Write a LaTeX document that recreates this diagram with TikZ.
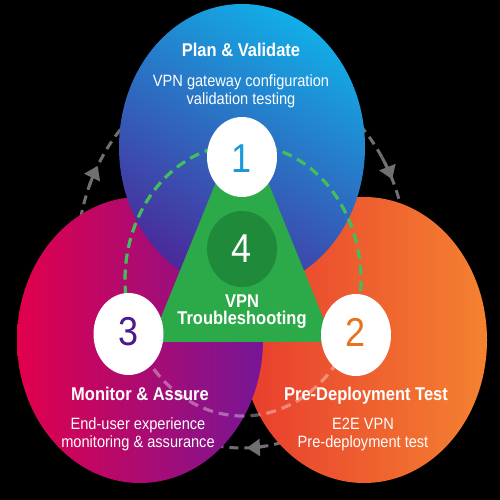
\documentclass[tikz,border=0pt]{standalone}
\usepackage{fontspec}
\setmainfont{Liberation Sans}
\usepackage{graphicx}
\usetikzlibrary{arrows.meta}
\definecolor{blueT}{RGB}{18,172,230}
\definecolor{blueB}{RGB}{74,42,154}
\definecolor{pinkL}{RGB}{226,0,76}
\definecolor{pinkR}{RGB}{118,22,150}
\definecolor{orgL}{RGB}{232,60,46}
\definecolor{orgR}{RGB}{244,130,48}
\definecolor{trigreen}{RGB}{44,170,74}
\definecolor{darkgreen}{RGB}{30,138,58}
\definecolor{dashgreen}{RGB}{66,190,92}
\definecolor{arcgray}{RGB}{112,112,112}
\definecolor{numblue}{RGB}{26,154,216}
\definecolor{numpurple}{RGB}{72,28,138}
\definecolor{numorange}{RGB}{232,115,31}
\newcommand\vtext[1]{\scalebox{1}[1.12]{\begin{tabular}{@{}c@{}}#1\end{tabular}}}
\tikzset{
  grayarc/.style={draw=arcgray, line width=3pt, dash pattern=on 9pt off 6pt},
  grayhead/.style={draw=arcgray, line width=3pt, -{Triangle[length=13pt,width=17pt]}},
  greendash/.style={draw=dashgreen, line width=3.2pt, dash pattern=on 10pt off 6pt},
  whitedash/.style={draw=white, draw opacity=0.35, line width=3.2pt, dash pattern=on 10pt off 6pt},
  numdisc/.style={fill=white},
  title/.style={text=white, inner sep=0pt, font=\fontsize{16.5}{18}\selectfont\bfseries},
  body/.style={text=white, inner sep=0pt, font=\fontsize{14.6}{16}\selectfont},
  num/.style={inner sep=0pt, font=\fontsize{36}{36}\selectfont}
}
\begin{document}
\begin{tikzpicture}[x=1pt,y=1pt]
\useasboundingbox (0,0) rectangle (500,500);
\fill[black] (0,0) rectangle (500,500);
% outer cycle
\coordinate (oc) at (242,242);
\draw[grayarc] (oc) ellipse [x radius=165pt, y radius=190pt];
\draw[grayhead] (oc) ++(158:165pt and 190pt) arc[start angle=158, end angle=151, x radius=165pt, y radius=190pt];
\draw[grayhead] (oc) ++(32:165pt and 190pt) arc[start angle=32, end angle=24.5, x radius=165pt, y radius=190pt];
\draw[grayhead] (oc) ++(278:165pt and 190pt) arc[start angle=278, end angle=271.7, x radius=165pt, y radius=190pt];
% big ellipses
\shade[left color=orgL, right color=orgR] (364,160) ellipse [x radius=123pt, y radius=143pt];
\shade[left color=pinkL, right color=pinkR] (140,160) ellipse [x radius=123pt, y radius=143pt];
\shade[top color=blueT, bottom color=blueB, shading angle=-30] (242,353) ellipse [x radius=123pt, y radius=143pt];
% inner dashed cycle
\coordinate (ic) at (243,220);
\draw[greendash] (ic) ++(-25:118pt and 136pt) arc[start angle=-25, end angle=200, x radius=118pt, y radius=136pt];
\draw[whitedash] (ic) ++(200:118pt and 136pt) arc[start angle=200, end angle=335, x radius=118pt, y radius=136pt];
% triangle
\fill[trigreen, rounded corners=10pt] (242,382) -- (151,158) -- (333,158) -- cycle;
\fill[darkgreen] (242,251) ellipse [x radius=35pt, y radius=38pt];
\node[num, text=white] (n4) at (242,251) {\scalebox{1}[1.12]{4}};
% white discs
\fill[numdisc] (242,343) ellipse [x radius=35pt, y radius=40pt];
\fill[numdisc] (128.5,166) ellipse [x radius=35pt, y radius=41pt];
\fill[numdisc] (356,165) ellipse [x radius=35pt, y radius=41pt];
\node[num, text=numblue] (n1) at (242,341) {\scalebox{1}[1.12]{1}};
\node[num, text=numpurple] (n3) at (128.5,168) {\scalebox{1}[1.12]{3}};
\node[num, text=numorange] (n2) at (356,168) {\scalebox{1}[1.12]{2}};
% texts
\node[title] (t1) at (241,448) {\vtext{Plan \& Validate}};
\node[body] (b1) at (241,408) {\vtext{VPN gateway configuration\\validation testing}};
\node[title] (t4) at (242,188) {\vtext{VPN\\[-2pt]Troubleshooting}};
\node[title] (t3) at (140,104) {\vtext{Monitor \& Assure}};
\node[body] (b3) at (138,65) {\vtext{End-user experience\\monitoring \& assurance}};
\node[title] (t2) at (366,104) {\vtext{Pre-Deployment Test}};
\node[body] (b2) at (363,65) {\vtext{E2E VPN\\Pre-deployment test}};
\end{tikzpicture}
\end{document}
